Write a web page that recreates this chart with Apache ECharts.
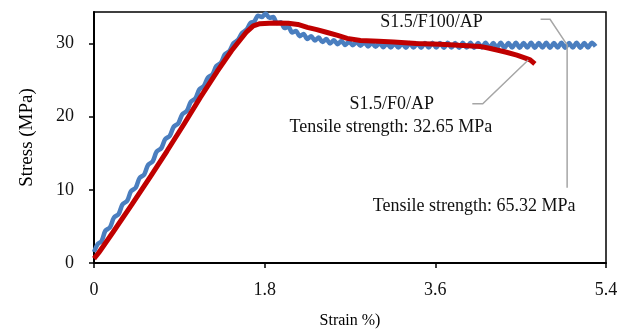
<!DOCTYPE html>
<html>
<head>
<meta charset="utf-8">
<script src="https://cdn.jsdelivr.net/npm/echarts@6/dist/echarts.min.js"></script>
<style>
  html, body { margin: 0; padding: 0; background: #fff; }
  #chart { width: 627px; height: 334px; }
</style>
</head>
<body>
<div id="chart"></div>
<script>
// tick labels
const xTicks = [0, 1.8, 3.6, 5.4];
const yTicks = [0, 10, 20, 30];

// S1.5/F100/AP  [strain %, stress MPa]
const blueData = [
  [0.00, 1.5], [0.04, 2.6], [0.08, 3.0], [0.12, 4.4], [0.17, 4.9], [0.21, 6.2],
  [0.26, 6.7], [0.30, 8.0], [0.35, 8.5], [0.39, 9.8], [0.44, 10.3], [0.48, 11.6],
  [0.53, 12.1], [0.57, 13.4], [0.62, 13.9], [0.66, 15.2], [0.71, 15.7], [0.75, 16.9],
  [0.80, 17.4], [0.84, 18.6], [0.89, 19.1], [0.93, 20.3], [0.98, 20.8], [1.02, 22.0],
  [1.07, 22.5], [1.11, 23.7], [1.16, 24.2], [1.20, 25.3], [1.25, 25.8], [1.29, 26.9],
  [1.34, 27.4], [1.38, 28.5], [1.43, 29.0], [1.47, 30.0], [1.52, 30.5], [1.56, 31.4],
  [1.61, 31.9], [1.65, 32.8], [1.69, 33.0], [1.73, 33.8], [1.77, 33.6], [1.81, 34.1],
  [1.85, 33.5], [1.89, 33.6], [1.93, 32.8], [1.97, 32.9], [2.01, 32.1], [2.05, 32.3],
  [2.09, 31.5], [2.13, 31.7], [2.17, 31.0], [2.21, 31.3], [2.25, 30.6], [2.29, 31.0],
  [2.33, 30.4], [2.37, 30.8], [2.41, 30.2], [2.45, 30.6], [2.49, 30.0], [2.53, 30.45],
  [2.57, 29.9], [2.61, 30.35], [2.65, 29.8], [2.69, 30.25], [2.73, 29.75], [2.77, 30.2],
  [2.81, 29.7], [2.85, 30.15], [2.89, 29.6], [2.93, 30.1], [2.97, 29.55], [3.01, 30.05],
  [3.05, 29.5], [3.09, 30.0], [3.13, 29.45], [3.17, 30.0], [3.21, 29.45], [3.25, 30.0],
  [3.29, 29.4], [3.33, 30.05], [3.37, 29.45], [3.41, 30.0], [3.45, 29.4], [3.49, 30.05],
  [3.53, 29.45], [3.57, 30.1], [3.61, 29.45], [3.65, 30.05], [3.69, 29.4], [3.73, 30.1],
  [3.77, 29.45], [3.81, 30.05], [3.85, 29.4], [3.89, 30.1], [3.93, 29.45], [3.97, 30.1],
  [4.01, 29.4], [4.05, 30.05], [4.09, 29.45], [4.13, 30.1], [4.17, 29.4], [4.21, 30.05],
  [4.25, 29.45], [4.29, 30.1], [4.33, 29.4], [4.37, 30.05], [4.41, 29.45], [4.45, 30.1],
  [4.49, 29.4], [4.53, 30.05], [4.57, 29.45], [4.61, 30.1], [4.65, 29.4], [4.69, 30.05],
  [4.73, 29.45], [4.77, 30.1], [4.81, 29.4], [4.85, 30.05], [4.89, 29.45], [4.93, 30.1],
  [4.97, 29.4], [5.01, 30.05], [5.05, 29.45], [5.09, 30.1], [5.13, 29.4], [5.17, 30.05],
  [5.21, 29.45], [5.25, 30.1], [5.29, 29.6]
];

// S1.5/F0/AP  [strain %, stress MPa]
const redData = [
  [0.00, 0.6], [0.05, 1.4], [0.20, 4.2], [0.40, 8.0], [0.60, 11.9], [0.77, 15.3],
  [0.95, 19.0], [1.12, 22.6], [1.30, 26.2], [1.45, 29.0], [1.61, 31.6], [1.68, 32.4],
  [1.75, 32.7], [1.90, 32.8], [2.05, 32.75], [2.15, 32.6], [2.25, 32.2], [2.35, 31.9],
  [2.46, 31.5], [2.57, 31.1], [2.67, 30.7], [2.81, 30.4], [3.00, 30.3], [3.16, 30.2],
  [3.40, 30.0], [3.65, 29.9], [3.85, 29.75], [4.07, 29.6], [4.17, 29.35], [4.25, 29.1],
  [4.35, 28.8], [4.46, 28.4], [4.55, 28.0], [4.60, 27.75], [4.65, 27.2]
];

// annotation texts (data coords) and leader lines
const notes = [
  { text: 'S1.5/F100/AP', at: [3.56, 32.95] },
  { text: 'S1.5/F0/AP', at: [3.14, 21.75] },
  { text: 'Tensile strength: 32.65 MPa', at: [3.13, 18.5] },
  { text: 'Tensile strength: 65.32 MPa', at: [4.01, 7.75] }
];
const leaders = [
  [[4.71, 33.3], [4.81, 33.3], [4.99, 29.8], [4.99, 10.3]],
  [[3.99, 21.75], [4.1, 21.75], [4.58, 27.75]]
];

const FONT = '"Liberation Serif", "Times New Roman", serif';

const chart = echarts.init(document.getElementById('chart'), null, { renderer: 'canvas' });

const option = {
  animation: false,
  grid: {
    left: 94, right: 21, top: 12, bottom: 70,
    show: true, borderColor: '#000', borderWidth: 1.5
  },
  xAxis: {
    type: 'value',
    min: 0, max: 5.4, interval: 1.8,
    name: 'Strain %)',
    nameLocation: 'middle',
    nameGap: 50,
    nameTextStyle: { fontFamily: FONT, fontSize: 16, color: '#000' },
    axisLine: { show: true, lineStyle: { color: '#000', width: 2 } },
    axisTick: { show: true, length: 5, lineStyle: { color: '#000', width: 1.5 }, customValues: xTicks },
    axisLabel: { margin: 18, fontFamily: FONT, fontSize: 18, color: '#111', customValues: xTicks },
    splitLine: { show: false }
  },
  yAxis: {
    type: 'value',
    min: 0, max: 34.3, interval: 10,
    name: 'Stress (MPa)',
    nameLocation: 'middle',
    nameGap: 57,
    nameTextStyle: { fontFamily: FONT, fontSize: 19, color: '#000' },
    axisLine: { show: true, lineStyle: { color: '#000', width: 2 } },
    axisTick: { show: true, length: 5, lineStyle: { color: '#000', width: 1.5 }, customValues: yTicks },
    axisLabel: { margin: 20, fontFamily: FONT, fontSize: 18, color: '#111', customValues: yTicks },
    splitLine: { show: false }
  },
  series: [
    {
      name: 'S1.5/F100/AP',
      type: 'line',
      data: blueData,
      showSymbol: false,
      smooth: 0.3,
      lineStyle: { color: '#4a7ebf', width: 4.5 },
      z: 2
    },
    {
      name: 'S1.5/F0/AP',
      type: 'line',
      data: redData,
      showSymbol: false,
      lineStyle: { color: '#c00000', width: 5 },
      z: 3
    }
  ]
};

chart.setOption(option);

// annotations placed via the axes
const graphics = [];
leaders.forEach(function (pts) {
  graphics.push({
    type: 'polyline',
    shape: { points: pts.map(function (p) { return chart.convertToPixel({ gridIndex: 0 }, p); }) },
    style: { stroke: '#a6a6a6', lineWidth: 1.5, fill: null },
    z: 10
  });
});
notes.forEach(function (n) {
  const p = chart.convertToPixel({ gridIndex: 0 }, n.at);
  graphics.push({
    type: 'text',
    x: p[0], y: p[1],
    style: {
      text: n.text, fontFamily: FONT, fontSize: 18, fill: '#111',
      align: 'center', verticalAlign: 'middle'
    },
    z: 10
  });
});
chart.setOption({ graphic: graphics });
</script>
</body>
</html>
